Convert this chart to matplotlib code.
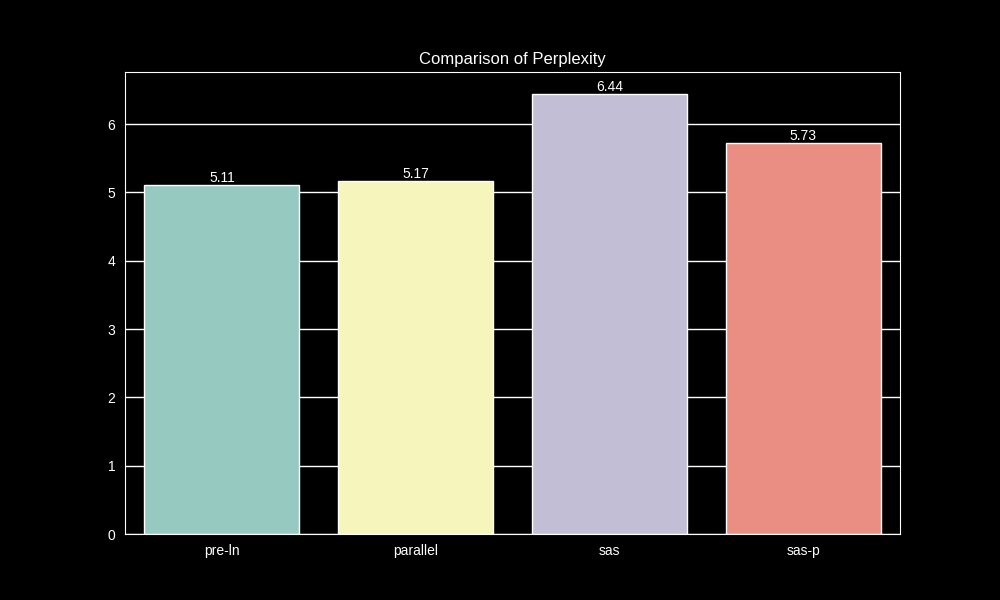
import matplotlib
matplotlib.use("Agg")
import matplotlib.pyplot as plt
import seaborn as sns

models = ["pre-ln", "parallel", "sas", "sas-p"]
perplexity = [5.11, 5.17, 6.44, 5.73]

plt.style.use("dark_background")
plt.rcParams["font.family"] = ["Liberation Sans", "DejaVu Sans"]
plt.rcParams["axes.grid"] = True
plt.rcParams["axes.grid.axis"] = "y"
plt.rcParams["grid.color"] = "white"
plt.rcParams["grid.linewidth"] = 1.0
# ticks hidden, but labels keep the usual spacing
plt.rcParams["xtick.major.size"] = 0
plt.rcParams["ytick.major.size"] = 0
plt.rcParams["xtick.major.pad"] = 7
plt.rcParams["ytick.major.pad"] = 7

fig, ax = plt.subplots(figsize=(10, 6), dpi=100)
ax.set_axisbelow(True)

sns.barplot(x=models, y=perplexity, hue=models, palette="Set3",
            edgecolor="white", legend=False, ax=ax)

for container in ax.containers:
    ax.bar_label(container, fmt="%.2f", color="white", fontsize=10)

ax.set_title("Comparison of Perplexity")
ax.set_xlabel("")
ax.set_ylabel("")

plt.savefig("out.png", dpi=100)
